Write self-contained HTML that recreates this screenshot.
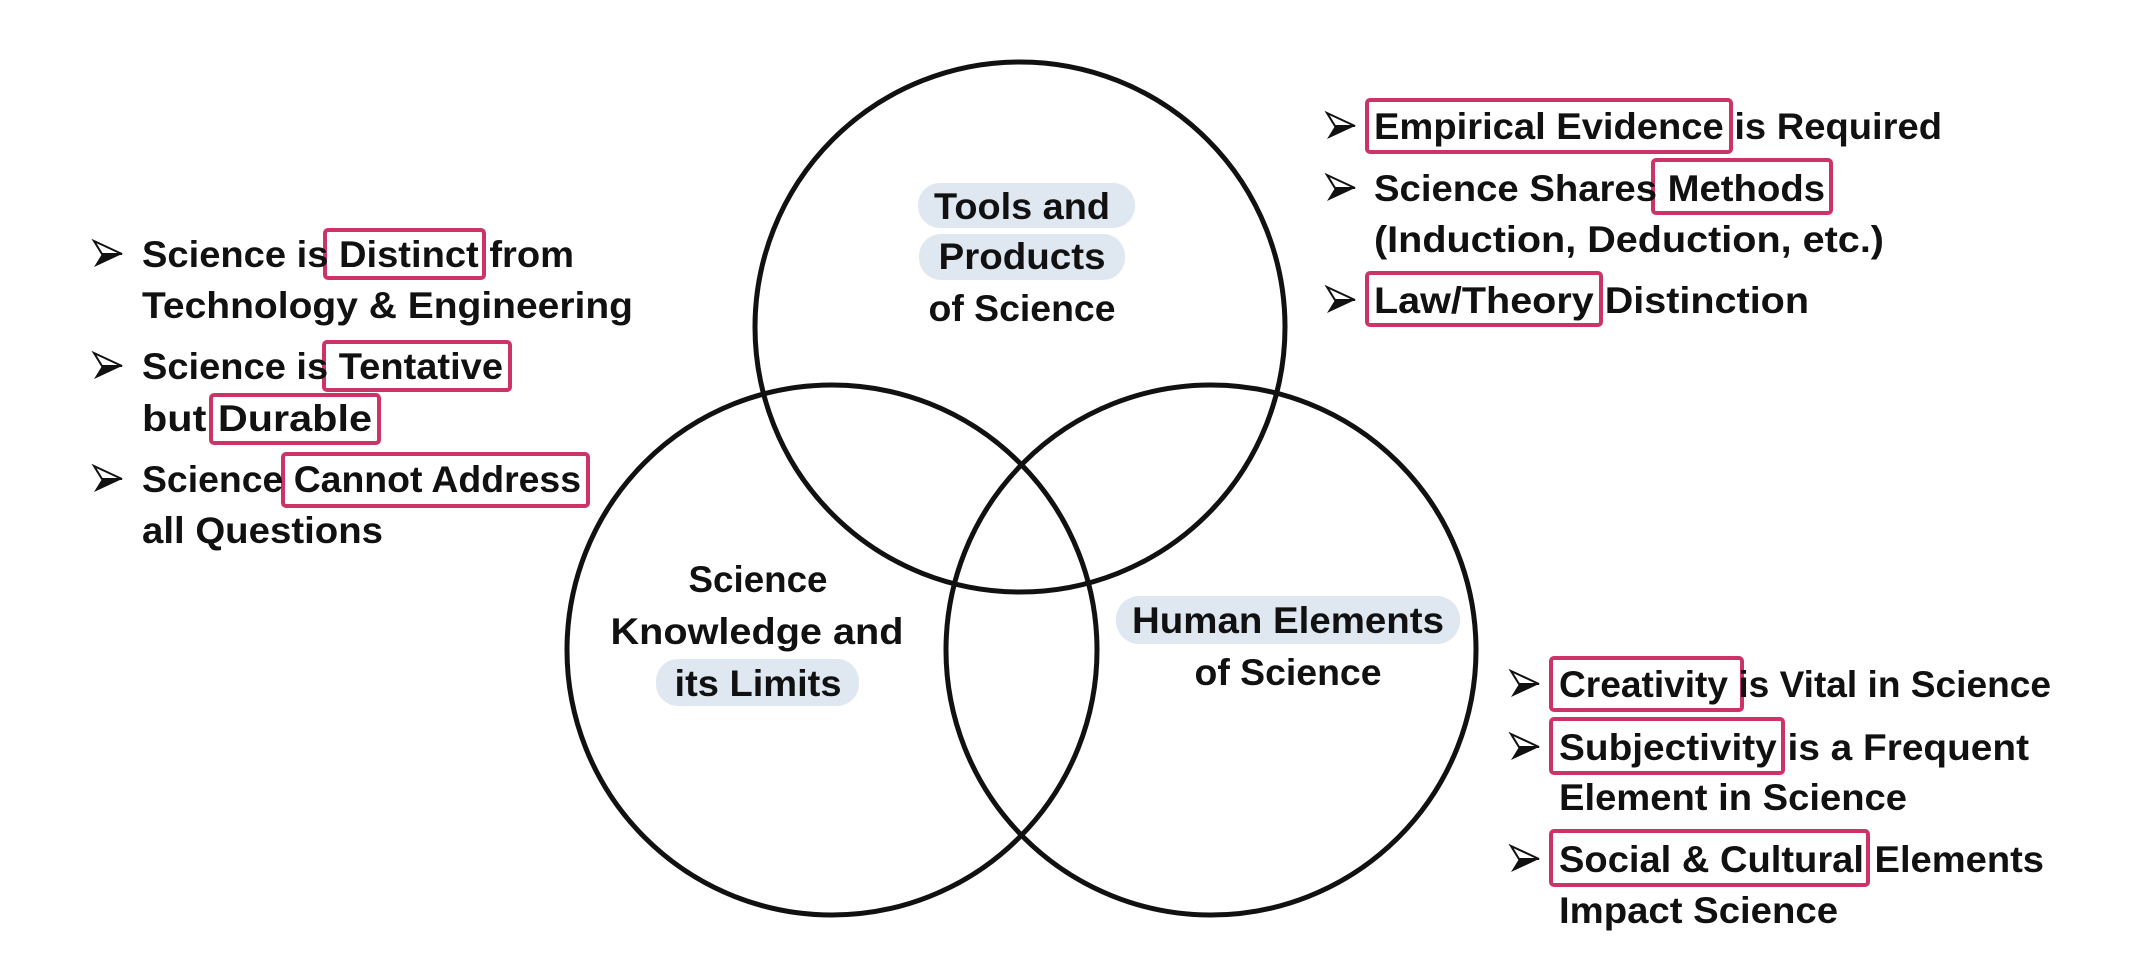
<!DOCTYPE html>
<html><head><meta charset="utf-8"><style>
html,body{margin:0;padding:0;background:#fff;width:2144px;height:963px;overflow:hidden}
svg text{font-family:"Liberation Sans",sans-serif;font-weight:bold;font-size:37px;fill:#111}
</style></head><body>
<svg width="2144" height="963" viewBox="0 0 2144 963" xmlns="http://www.w3.org/2000/svg">
<defs>
<g id="bul"><polygon points="0,0 28,13 0,26 8,13" fill="#111"/><polygon points="0,0 28,13 8,13" fill="#fff" stroke="#111" stroke-width="2"/></g>
</defs>
<g fill="#dfe7f0">
<rect x="918" y="183" width="217" height="45" rx="22"/>
<rect x="919" y="234" width="206" height="46" rx="22"/>
<rect x="656" y="659" width="203" height="47" rx="22"/>
<rect x="1116" y="596" width="344" height="48" rx="23"/>
</g>
<g fill="none" stroke="#111" stroke-width="5">
<circle cx="1020" cy="327" r="265"/>
<circle cx="832" cy="650" r="265"/>
<circle cx="1211" cy="650" r="265"/>
</g>
<g text-anchor="middle">
<text x="1022" y="219" textLength="176" lengthAdjust="spacingAndGlyphs">Tools and</text>
<text x="1022" y="269" textLength="167" lengthAdjust="spacingAndGlyphs">Products</text>
<text x="1022" y="321" textLength="187" lengthAdjust="spacingAndGlyphs">of Science</text>
<text x="758" y="592" textLength="139" lengthAdjust="spacingAndGlyphs">Science</text>
<text x="757" y="644" textLength="293" lengthAdjust="spacingAndGlyphs">Knowledge and</text>
<text x="758" y="696" textLength="167" lengthAdjust="spacingAndGlyphs">its Limits</text>
<text x="1288" y="633" textLength="312" lengthAdjust="spacingAndGlyphs">Human Elements</text>
<text x="1288" y="685" textLength="187" lengthAdjust="spacingAndGlyphs">of Science</text>
</g>
<g fill="none" stroke="#cc3366" stroke-width="4">
<rect x="325" y="230" width="159" height="48" rx="3"/>
<rect x="324" y="342" width="186" height="48" rx="3"/>
<rect x="211" y="395" width="168" height="48" rx="3"/>
<rect x="283" y="454" width="305" height="52" rx="3"/>
<rect x="1367" y="100" width="364" height="52" rx="3"/>
<rect x="1653" y="160" width="178" height="53" rx="3"/>
<rect x="1367" y="273" width="234" height="52" rx="3"/>
<rect x="1551" y="658" width="191" height="52" rx="3"/>
<rect x="1551" y="719" width="232" height="54" rx="3"/>
<rect x="1551" y="831" width="317" height="54" rx="3"/>
</g>
<use href="#bul" x="94" y="241"/>
<use href="#bul" x="94" y="353"/>
<use href="#bul" x="94" y="466"/>
<use href="#bul" x="1327" y="113"/>
<use href="#bul" x="1327" y="175"/>
<use href="#bul" x="1327" y="287"/>
<use href="#bul" x="1511" y="671"/>
<use href="#bul" x="1511" y="734"/>
<use href="#bul" x="1511" y="846"/>
<text x="142" y="267" textLength="432" lengthAdjust="spacingAndGlyphs">Science is Distinct from</text>
<text x="142" y="318" textLength="491" lengthAdjust="spacingAndGlyphs">Technology &amp; Engineering</text>
<text x="142" y="379" textLength="361" lengthAdjust="spacingAndGlyphs">Science is Tentative</text>
<text x="142" y="431" textLength="230" lengthAdjust="spacingAndGlyphs">but Durable</text>
<text x="142" y="492" textLength="439" lengthAdjust="spacingAndGlyphs">Science Cannot Address</text>
<text x="142" y="543" textLength="241" lengthAdjust="spacingAndGlyphs">all Questions</text>
<text x="1374" y="139" textLength="568" lengthAdjust="spacingAndGlyphs">Empirical Evidence is Required</text>
<text x="1374" y="201" textLength="451" lengthAdjust="spacingAndGlyphs">Science Shares Methods</text>
<text x="1374" y="252" textLength="510" lengthAdjust="spacingAndGlyphs">(Induction, Deduction, etc.)</text>
<text x="1374" y="313" textLength="435" lengthAdjust="spacingAndGlyphs">Law/Theory Distinction</text>
<text x="1559" y="697" textLength="492" lengthAdjust="spacingAndGlyphs">Creativity is Vital in Science</text>
<text x="1559" y="760" textLength="470" lengthAdjust="spacingAndGlyphs">Subjectivity is a Frequent</text>
<text x="1559" y="810" textLength="348" lengthAdjust="spacingAndGlyphs">Element in Science</text>
<text x="1559" y="872" textLength="485" lengthAdjust="spacingAndGlyphs">Social &amp; Cultural Elements</text>
<text x="1559" y="923" textLength="279" lengthAdjust="spacingAndGlyphs">Impact Science</text>
</svg>
</body></html>
